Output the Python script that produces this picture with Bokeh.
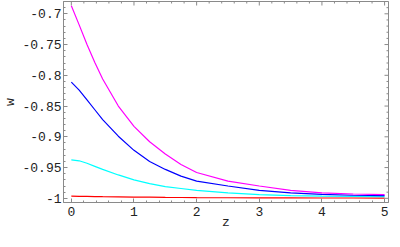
import math
from bokeh.plotting import figure
from bokeh.models import Range1d, FixedTicker
from bokeh.embed import file_html
from bokeh.resources import INLINE

# data
z = [0, 0.125, 0.25, 0.375, 0.5, 0.75, 1, 1.25, 1.5, 1.75, 2, 2.5, 3, 3.5, 4, 4.5, 5]
w_magenta = [-0.687, -0.718, -0.750, -0.779, -0.806, -0.850, -0.883, -0.908, -0.928,
             -0.945, -0.958, -0.972, -0.980, -0.987, -0.991, -0.993, -0.994]
w_blue = [-0.811, -0.824, -0.840, -0.856, -0.872, -0.899, -0.922, -0.940, -0.953,
          -0.964, -0.972, -0.980, -0.987, -0.991, -0.9935, -0.995, -0.9957]
w_cyan = [-0.9375, -0.939, -0.943, -0.948, -0.953, -0.962, -0.970, -0.976, -0.981,
          -0.984, -0.987, -0.991, -0.994, -0.9955, -0.9965, -0.997, -0.9973]
w_red = [-0.9965, -0.9967, -0.9969, -0.9971, -0.9973, -0.9976, -0.9979, -0.9982, -0.9985,
         -0.9987, -0.9989, -0.9991, -0.9993, -0.9994, -0.9995, -0.9995, -0.9996]

x_ticks = [0, 1, 2, 3, 4, 5]
x_minor = [round(i * 0.2, 2) for i in range(0, 26)]
y_ticks = [-1.0, -0.95, -0.9, -0.85, -0.8, -0.75, -0.7]
y_labels = ["-1", "-0.95", "-0.9", "-0.85", "-0.8", "-0.75", "-0.7"]
y_minor = [round(-1.0 + i * 0.01, 2) for i in range(0, 33)]

X_START, X_END = -0.125, 5.0625
Y_START, Y_END = -1.0068, -0.680

FONT = "Liberation Mono"
FRAME = "#8a8a8a"
TXT = "#222222"

p = figure(width=392, height=239, output_backend="svg", toolbar_location=None,
           x_range=Range1d(X_START, X_END), y_range=Range1d(Y_START, Y_END),
           min_border_left=56, min_border_right=4, min_border_top=1, min_border_bottom=37)
p.grid.visible = False
p.outline_line_color = FRAME
p.background_fill_color = "white"
p.border_fill_color = "white"

p.line(z, w_red, line_color="#ff0000", line_width=1.2)
p.line(z, w_cyan, line_color="#00ffff", line_width=1.2)
p.line(z, w_blue, line_color="#0000ff", line_width=1.2)
p.line(z, w_magenta, line_color="#ff00ff", line_width=1.2)

# inward ticks on the top and right frame edges (half of each dash is clipped away)
xm_only = [v for v in x_minor if v not in x_ticks]
ym_only = [v for v in y_minor if v not in y_ticks]
p.scatter(x_ticks, [Y_END] * len(x_ticks), marker="dash", size=8, angle=math.pi / 2,
          line_color=FRAME, line_width=1)
p.scatter(xm_only, [Y_END] * len(xm_only), marker="dash", size=4, angle=math.pi / 2,
          line_color=FRAME, line_width=1)
p.scatter([X_END] * len(y_ticks), y_ticks, marker="dash", size=8,
          line_color=FRAME, line_width=1)
p.scatter([X_END] * len(ym_only), ym_only, marker="dash", size=4,
          line_color=FRAME, line_width=1)


def style(ax):
    ax.axis_line_color = FRAME
    ax.major_tick_line_color = FRAME
    ax.minor_tick_line_color = FRAME
    ax.major_tick_in = 4
    ax.major_tick_out = 0
    ax.minor_tick_in = 2
    ax.minor_tick_out = 0
    ax.major_label_text_font = FONT
    ax.major_label_text_color = TXT
    ax.major_label_text_font_size = "13px"
    ax.axis_label_text_font = FONT
    ax.axis_label_text_color = TXT
    ax.axis_label_text_font_style = "normal"
    ax.axis_label_text_font_size = "13px"


xa = p.xaxis[0]
xa.ticker = FixedTicker(ticks=x_ticks, minor_ticks=x_minor)
xa.axis_label = "z"
style(xa)
xa.major_label_standoff = 4
xa.axis_label_standoff = -4

ya = p.yaxis[0]
ya.ticker = FixedTicker(ticks=y_ticks, minor_ticks=y_minor)
ya.major_label_overrides = dict(zip(y_ticks, y_labels))
ya.axis_label = "w"
style(ya)
ya.major_label_standoff = 2
ya.axis_label_standoff = 1

open("out.html", "w").write(file_html(p, INLINE))
